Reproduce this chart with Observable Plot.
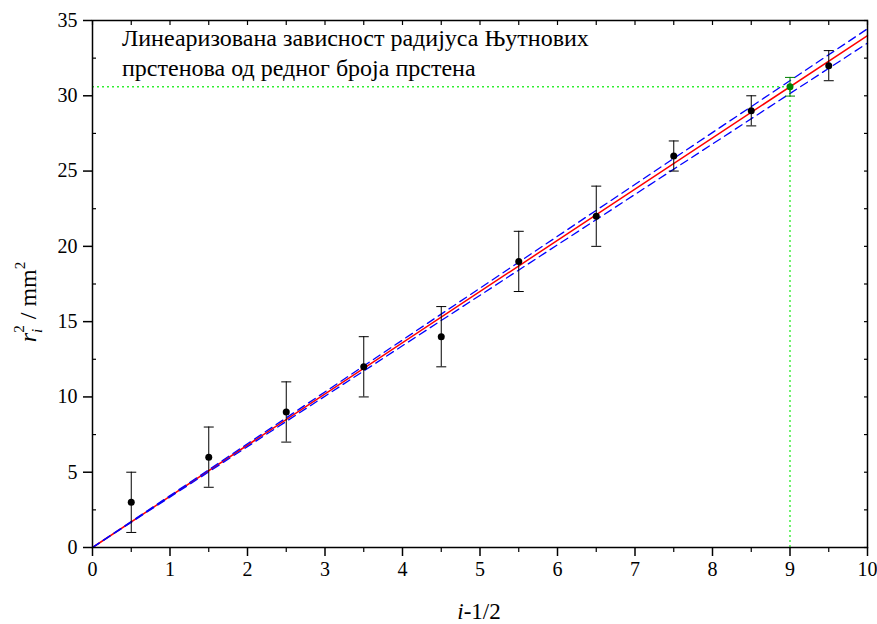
<!DOCTYPE html>
<html>
<head>
<meta charset="utf-8">
<script src="https://cdn.jsdelivr.net/npm/d3@7"></script>
<script src="https://cdn.jsdelivr.net/npm/@observablehq/plot@0.6"></script>
<style>
  html, body { margin: 0; padding: 0; background: #fff; }
  svg text, svg tspan { font-family: "Liberation Serif", "DejaVu Serif", serif !important; }
</style>
</head>
<body>
<div id="chart"></div>
<script>
// ---- data ----
const xValues = [0.5, 1.5, 2.5, 3.5, 4.5, 5.5, 6.5, 7.5, 8.5, 9.5];
const yValues = [3, 6, 9, 12, 14, 19, 22, 26, 29, 32];
const yErrors = [2, 2, 2, 2, 2, 2, 2, 1, 1, 1];

const fitSlope = 3.40;     // red fit line through origin
const upperSlope = 3.445;  // upper confidence band
const lowerSlope = 3.35;   // lower confidence band
const fitRange = [0, 10];

const readX = 9;
const readY = 30.6;
const readErr = 0.62;

const titleLines = ["Линеаризована зависност радијуса Њутнових", "прстенова од редног броја прстена"];

const xMajor = [0, 1, 2, 3, 4, 5, 6, 7, 8, 9, 10];
const xMinor = [0.5, 1.5, 2.5, 3.5, 4.5, 5.5, 6.5, 7.5, 8.5, 9.5];
const yMajor = [0, 5, 10, 15, 20, 25, 30, 35];
const yMinor = [2.5, 7.5, 12.5, 17.5, 22.5, 27.5, 32.5];

// ---- build ----
const points = xValues.map((x, i) => ({x, y: yValues[i], e: yErrors[i]}));
const readPoint = [{x: readX, y: readY, e: readErr}];
const fitLine = (slope) => fitRange.map(x => ({x, y: slope * x}));

const capSymbol = { draw(ctx) { ctx.moveTo(-5, 0); ctx.lineTo(5, 0); } };
const noText = () => "";
const serif = "Liberation Serif, DejaVu Serif, serif";

const chart = Plot.plot({
  width: 877,
  height: 624,
  marginLeft: 92,
  marginRight: 10,
  marginTop: 20,
  marginBottom: 77,
  style: { fontFamily: serif, fontSize: "20px", background: "#fff", color: "#000", overflow: "visible" },
  x: { domain: [0, 10], label: null },
  y: { domain: [0, 35], label: null },
  marks: [
    // green reading guides
    Plot.ruleY(readPoint, { y: "y", x1: 0, x2: "x", stroke: "#33ee33", strokeWidth: 1.4, strokeDasharray: "2,3" }),
    Plot.ruleX(readPoint, { x: "x", y1: 0, y2: "y", stroke: "#33ee33", strokeWidth: 1.4, strokeDasharray: "2,3" }),
    // fit and confidence bands
    Plot.line(fitLine(fitSlope), { x: "x", y: "y", stroke: "#ff0000", strokeWidth: 1.5 }),
    Plot.line(fitLine(upperSlope), { x: "x", y: "y", stroke: "#0000ff", strokeWidth: 1.3, strokeDasharray: "8,5" }),
    Plot.line(fitLine(lowerSlope), { x: "x", y: "y", stroke: "#0000ff", strokeWidth: 1.3, strokeDasharray: "8,5" }),
    // error bars
    Plot.ruleX(points, { x: "x", y1: d => d.y - d.e, y2: d => d.y + d.e, stroke: "#000", strokeWidth: 1 }),
    Plot.dot(points, { x: "x", y: d => d.y - d.e, symbol: capSymbol, stroke: "#000", fill: "none", strokeWidth: 1 }),
    Plot.dot(points, { x: "x", y: d => d.y + d.e, symbol: capSymbol, stroke: "#000", fill: "none", strokeWidth: 1 }),
    Plot.dot(points, { x: "x", y: "y", r: 3.5, fill: "#000", stroke: "none" }),
    // green read point
    Plot.ruleX(readPoint, { x: "x", y1: d => d.y - d.e, y2: d => d.y + d.e, stroke: "#008000", strokeWidth: 1 }),
    Plot.dot(readPoint, { x: "x", y: d => d.y - d.e, symbol: capSymbol, stroke: "#008000", fill: "none", strokeWidth: 1 }),
    Plot.dot(readPoint, { x: "x", y: d => d.y + d.e, symbol: capSymbol, stroke: "#008000", fill: "none", strokeWidth: 1 }),
    Plot.dot(readPoint, { x: "x", y: "y", r: 3.5, fill: "#008000", stroke: "none" }),
    // axes
    Plot.axisX({ ticks: xMajor, tickSize: 9, tickPadding: 5, strokeWidth: 1.5, tickFormat: d => d }),
    Plot.axisX({ ticks: xMinor, tickSize: 5, strokeWidth: 1.2, tickFormat: noText }),
    Plot.axisY({ ticks: yMajor, tickSize: 9, tickPadding: 6, strokeWidth: 1.5, tickFormat: d => d }),
    Plot.axisY({ ticks: yMinor, tickSize: -4, strokeWidth: 1.2, tickFormat: noText }),
    Plot.axisX({ anchor: "top", ticks: xMajor.concat(xMinor), tickSize: -4, strokeWidth: 1.2, tickFormat: noText }),
    Plot.axisY({ anchor: "right", ticks: yMajor.concat(yMinor), tickSize: -4, strokeWidth: 1.2, tickFormat: noText }),
    Plot.frame({ stroke: "#000", strokeWidth: 1.5 })
  ]
});

document.getElementById("chart").appendChild(chart);

// ---- text labels ----
const svg = d3.select(chart);

// title inside the plot
const title = svg.append("text")
  .attr("text-anchor", "start")
  .attr("font-family", serif).attr("font-size", 24).attr("fill", "#000");
titleLines.forEach((line, i) => {
  title.append("tspan").attr("x", 122).attr("y", 46 + i * 30).text(line);
});

// x-axis label
const xl = svg.append("text")
  .attr("x", 479).attr("y", 619)
  .attr("text-anchor", "middle")
  .attr("font-family", serif).attr("font-size", 23).attr("fill", "#000");
xl.append("tspan").attr("font-style", "italic").text("i");
xl.append("tspan").text("-1/2");

// y-axis label
const yl = svg.append("text")
  .attr("transform", "translate(36,302) rotate(-90)")
  .attr("text-anchor", "middle")
  .attr("font-family", serif).attr("font-size", 24).attr("fill", "#000");
yl.append("tspan").attr("font-style", "italic").text("r");
yl.append("tspan").attr("font-style", "italic").attr("font-size", 15).attr("dy", 6).text("i");
yl.append("tspan").attr("font-size", 15).attr("dx", -4).attr("dy", -18).text("2");
yl.append("tspan").attr("dy", 12).text(" / mm");
yl.append("tspan").attr("font-size", 15).attr("dy", -11).text("2");
</script>
</body>
</html>
